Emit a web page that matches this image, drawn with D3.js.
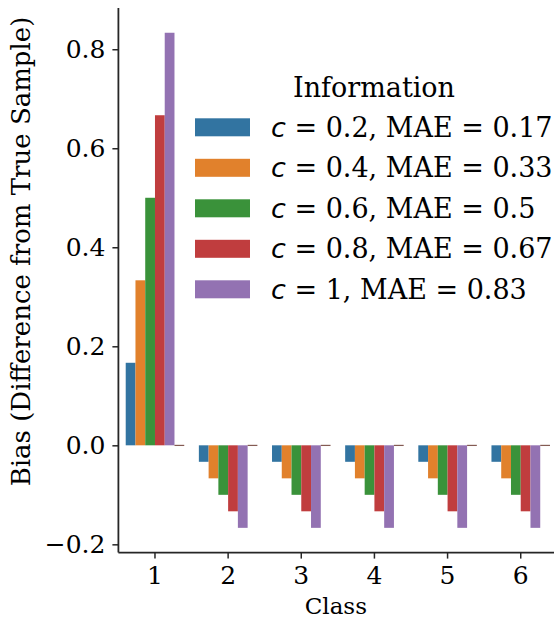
<!DOCTYPE html>
<html><head><meta charset="utf-8">
<script src="https://cdn.jsdelivr.net/npm/d3@7"></script>
<style>
html,body{margin:0;padding:0;background:#fff;}
svg text{font-family:"DejaVu Serif",serif;fill:#000;}
</style></head>
<body><svg id="chart" width="554" height="619"></svg>
<script>
const classes = ["1","2","3","4","5","6"];
const hueC = ["0.2","0.4","0.6","0.8","1",""];
const hueMAE = ["0.17","0.33","0.5","0.67","0.83",""];
const colors = ["#3274a1","#e1812c","#3a923a","#c03d3e","#9372b2","#845b53"];
const s1 = [0.1667,-0.0333,-0.0333,-0.0333,-0.0333,-0.0333];
const s2 = [0.3333,-0.0667,-0.0667,-0.0667,-0.0667,-0.0667];
const s3 = [0.5,-0.1,-0.1,-0.1,-0.1,-0.1];
const s4 = [0.6667,-0.1333,-0.1333,-0.1333,-0.1333,-0.1333];
const s5 = [0.8333,-0.1667,-0.1667,-0.1667,-0.1667,-0.1667];
const s6 = [0,0,0,0,0,0];
const series = [s1,s2,s3,s4,s5,s6];
const yTicks = [-0.2,0.0,0.2,0.4,0.6,0.8];
const yTickLabels = ["\u22120.2","0.0","0.2","0.4","0.6","0.8"];

(function(){
const svg = d3.select("#chart");
const pl = 118.4, pr = 557.3, pt = 8, pb = 552.6;
const x = d3.scaleBand().domain(classes).range([pl, pr]).paddingInner(0).paddingOuter(0);
const y = d3.scaleLinear().domain([-0.2167, 0.8833]).range([pb, pt]);
const groupW = x.bandwidth()*0.8;
const xh = d3.scaleBand().domain(d3.range(series.length)).range([0, groupW]);

const data = [];
series.forEach((s,i)=>s.forEach((v,j)=>data.push({c:classes[j],h:i,v})));
svg.append("g").selectAll("rect").data(data).join("rect")
  .attr("x", d=>x(d.c)+(x.bandwidth()-groupW)/2+xh(d.h))
  .attr("width", xh.bandwidth())
  .attr("y", d=>Math.min(y(d.v),y(0)) - (d.v===0?0.5:0))
  .attr("height", d=>Math.max(Math.abs(y(d.v)-y(0)), d.v===0?1.2:0))
  .attr("fill", d=>colors[d.h]);

const yAxis = svg.append("g").attr("transform",`translate(${pl},0)`)
  .call(d3.axisLeft(y).tickValues(yTicks).tickFormat((d,i)=>yTickLabels[i]).tickSize(6).tickPadding(7));
yAxis.select(".domain").attr("stroke","#262626").attr("stroke-width",1.8).attr("d",`M0,${pt}V${pb}`);
yAxis.selectAll(".tick line").attr("stroke","#262626").attr("stroke-width",1.5);
yAxis.selectAll(".tick text").attr("font-size",25).attr("font-family","DejaVu Serif").attr("fill","#000");

const xAxis = svg.append("g").attr("transform",`translate(0,${pb})`)
  .call(d3.axisBottom(x).tickSize(6).tickPadding(8));
xAxis.select(".domain").attr("stroke","#262626").attr("stroke-width",1.8).attr("d",`M${pl},0H${pr}`);
xAxis.selectAll(".tick line").attr("stroke","#262626").attr("stroke-width",1.5);
xAxis.selectAll(".tick text").attr("font-size",25).attr("font-family","DejaVu Serif").attr("fill","#000");

svg.append("text").attr("x",(pl+pr)/2-2).attr("y",614).attr("text-anchor","middle")
  .attr("font-size",23).text("Class");
svg.append("text").attr("transform",`translate(30,251.5) rotate(-90)`).attr("text-anchor","middle")
  .attr("font-size",26).text("Bias (Difference from True Sample)");

const lg = svg.append("g");
lg.append("text").attr("x",374).attr("y",97).attr("text-anchor","middle").attr("font-size",27).text("Information");
const rows = lg.selectAll("g.row").data(d3.range(5)).join("g").attr("class","row")
  .attr("transform",i=>`translate(195,${127.3+i*40.5})`);
rows.append("rect").attr("x",0).attr("y",-9).attr("width",55).attr("height",18).attr("fill",i=>colors[i]);
const t = rows.append("text").attr("x",76).attr("y",9.5).attr("font-size",27);
t.append("tspan").attr("font-family","DejaVu Sans").attr("font-style","italic").text("c");
t.append("tspan").text(i=>` = ${hueC[i]}, MAE = ${hueMAE[i]}`);
})();
</script></body></html>
